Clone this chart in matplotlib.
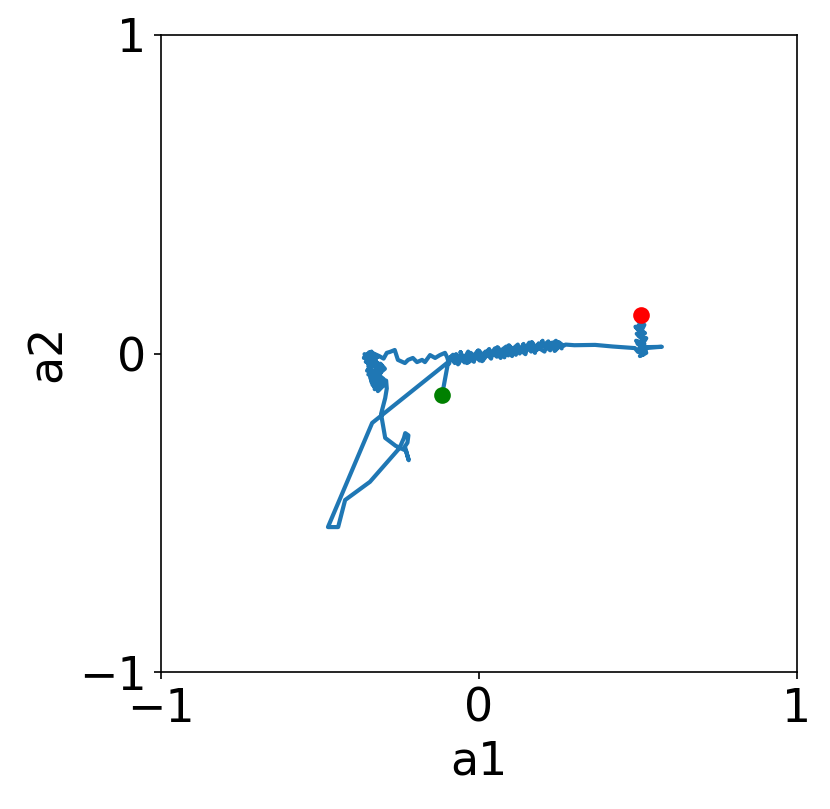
import matplotlib
matplotlib.use("Agg")
import matplotlib.pyplot as plt

plt.rcParams["font.size"] = 22

# trajectory of the action (a1, a2), in order
A1 = [
    # start, jump down-left and back up
    -0.116, -0.097, -0.336, -0.475, -0.443, -0.421, -0.343, -0.250,
    -0.236, -0.232, -0.222, -0.225, -0.233, -0.228, -0.221, -0.230, -0.262,
    -0.295, -0.308, -0.295, -0.290, -0.292,
    # left cluster
    -0.300, -0.318, -0.306, -0.328, -0.312, -0.335, -0.320, -0.302, -0.330, -0.342,
    -0.315, -0.338, -0.325, -0.348, -0.310, -0.335, -0.352, -0.322, -0.305, -0.340,
    -0.330, -0.356, -0.318, -0.345, -0.362, -0.338, -0.350, -0.325, -0.360, -0.342,
    -0.332, -0.348, -0.320, -0.338, -0.312, -0.328, -0.300, -0.318, -0.296, -0.310,
    -0.325, -0.342, -0.316, -0.334, -0.308, -0.326, -0.344, -0.322, -0.336, -0.314,
    -0.300, -0.290,
    # wander to the right
    -0.280, -0.265, -0.255, -0.233, -0.223, -0.208, -0.195, -0.179, -0.170, -0.154,
    -0.138, -0.123, -0.107,
    # noisy band around zero
    -0.100, -0.094, -0.088, -0.097, -0.082, -0.076, -0.084, -0.068, -0.072, -0.060,
    -0.066, -0.052, -0.058, -0.046, -0.040, -0.050, -0.034, -0.028, -0.038, -0.022,
    -0.016, -0.026, -0.010, -0.004, -0.014, 0.002, 0.008, -0.002, 0.014, 0.020,
    0.010, 0.026, 0.032, 0.022, 0.038, 0.044, 0.034, 0.050, 0.056, 0.046,
    0.062, 0.068, 0.058, 0.074, 0.080, 0.070, 0.086, 0.092, 0.082, 0.098,
    0.104, 0.094, 0.110, 0.116, 0.106, 0.122, 0.128, 0.118, 0.134, 0.140,
    0.130, 0.146, 0.152, 0.142, 0.158, 0.164, 0.154, 0.170, 0.176, 0.166,
    0.182, 0.188, 0.178, 0.194, 0.200, 0.190, 0.206, 0.212, 0.202, 0.218,
    0.224, 0.214, 0.230, 0.236, 0.226, 0.242, 0.248, 0.238, 0.254, 0.260,
    0.250, 0.266, 0.272,
    # long move to the right
    0.300, 0.365, 0.420, 0.490,
    # right column, ending at the top
    0.500, 0.514, 0.498, 0.522, 0.506, 0.526, 0.510, 0.530, 0.575, 0.528,
    0.516, 0.500, 0.520, 0.494, 0.512, 0.526, 0.502, 0.518, 0.496, 0.514,
    0.504, 0.522, 0.498, 0.512, 0.492, 0.508, 0.520, 0.500, 0.514, 0.496,
    0.510, 0.518, 0.502, 0.514, 0.500, 0.512, 0.509,
]
A2 = [
    -0.130, -0.027, -0.218, -0.545, -0.545, -0.460, -0.403, -0.297,
    -0.265, -0.250, -0.257, -0.280, -0.292, -0.310, -0.335, -0.305, -0.290,
    -0.265, -0.190, -0.140, -0.110, -0.085,
    -0.100, -0.118, -0.092, -0.112, -0.082, -0.098, -0.070, -0.088, -0.104, -0.076,
    -0.060, -0.084, -0.050, -0.066, -0.044, -0.036, -0.054, -0.028, -0.040, -0.018,
    -0.004, -0.026, -0.010, 0.004, -0.014, 0.006, -0.030, -0.020, -0.002, -0.046,
    -0.062, -0.040, -0.074, -0.090, -0.058, -0.106, -0.080, -0.066, -0.048, -0.032,
    -0.052, -0.070, -0.094, -0.078, -0.060, -0.038, -0.022, -0.012, 0.002, -0.008,
    -0.016, 0.002,
    0.005, 0.011, -0.020, -0.030, -0.020, -0.014, -0.027, -0.020, -0.027, -0.005,
    -0.014, -0.005, 0.002,
    -0.012, -0.032, -0.010, -0.022, -0.004, -0.030, -0.016, -0.026, -0.002, -0.020,
    -0.034, -0.012, 0.004, -0.028, -0.008, -0.022, 0.006, -0.024, -0.030, -0.010,
    -0.026, 0.002, -0.016, 0.008, -0.004, -0.022, 0.000, 0.010, -0.014, 0.006,
    -0.024, -0.004, 0.014, 0.002, -0.016, 0.008, -0.008, 0.016, -0.010, 0.000,
    0.012, -0.014, 0.020, 0.002, -0.012, 0.010, 0.022, -0.006, 0.004, 0.016,
    -0.008, 0.026, 0.008, -0.004, 0.014, 0.028, 0.000, 0.018, 0.006, 0.030,
    0.012, -0.002, 0.022, 0.010, 0.034, 0.006, 0.018, 0.028, 0.002, 0.036,
    0.014, 0.032, 0.008, 0.022, 0.040, 0.016, 0.006, 0.030, 0.024, 0.038,
    0.010, 0.018, 0.034, 0.014, 0.026, 0.040, 0.018, 0.008, 0.030, 0.016,
    0.036, 0.024, 0.028,
    0.026, 0.027, 0.022, 0.017,
    0.005, 0.024, 0.032, 0.010, -0.008, 0.002, 0.015, 0.020, 0.021, 0.018,
    -0.004, 0.012, 0.030, 0.040, 0.026, 0.048, 0.056, 0.042, 0.062, 0.054,
    0.070, 0.064, 0.078, 0.072, 0.084, 0.066, 0.090, 0.086, 0.098, 0.080,
    0.094, 0.104, 0.100, 0.108, 0.112, 0.104, 0.121,
]

fig = plt.figure(figsize=(830 / 150, 809 / 150), dpi=150)
ax = fig.add_axes([161 / 830, 1 - 672 / 809, 636 / 830, 637 / 809])

ax.plot(A1, A2, color="#1f77b4", linewidth=2)
ax.plot(A1[0], A2[0], "o", color="green", markersize=7)
ax.plot(A1[-1], A2[-1], "o", color="red", markersize=7)

ax.set_xlim(-1, 1)
ax.set_ylim(-1, 1)
ax.set_xticks([-1, 0, 1])
ax.set_yticks([-1, 0, 1])
ax.set_xlabel("a1")
ax.set_ylabel("a2")

fig.savefig("out.png", dpi=150)
